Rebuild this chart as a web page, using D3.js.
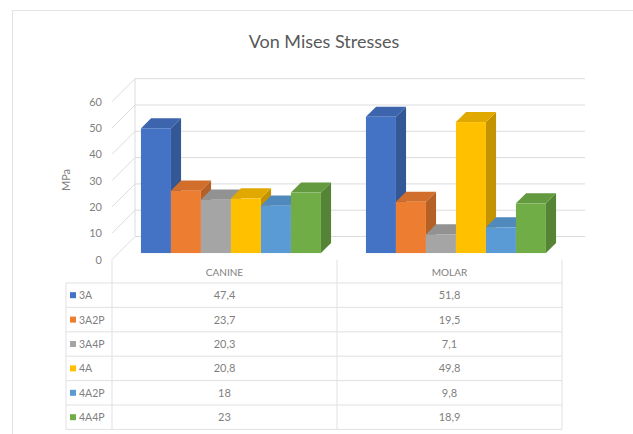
<!DOCTYPE html>
<html>
<head>
<meta charset="utf-8">
<script src="https://cdn.jsdelivr.net/npm/d3@7"></script>
<style>
  body { margin: 0; background: #fff; }
  svg { display: block; font-family: Lato, "Open Sans", sans-serif; }
</style>
</head>
<body>
<div id="chart"></div>
<script>
// data
const categories = ["CANINE", "MOLAR"];
const seriesNames = ["3A", "3A2P", "3A4P", "4A", "4A2P", "4A4P"];
const seriesColors = ["#4472C4", "#ED7D31", "#A5A5A5", "#FFC000", "#5B9BD5", "#70AD47"];
const canineValues = [47.4, 23.7, 20.3, 20.8, 18, 23];
const molarValues = [51.8, 19.5, 7.1, 49.8, 9.8, 18.9];
const yTicks = [0, 10, 20, 30, 40, 50, 60];

const W = 633, H = 434;
const svg = d3.select("#chart").append("svg").attr("width", W).attr("height", H);

// chart frame
svg.append("rect").attr("x", 12.5).attr("y", 10.5).attr("width", 640).attr("height", 440)
  .attr("fill", "none").attr("stroke", "#e3e3e3");

svg.append("text").attr("x", 324).attr("y", 48).attr("text-anchor", "middle")
  .attr("font-size", 18).attr("fill", "#595959").text("Von Mises Stresses");

// front plane scales + depth vector
const floorLeft = 112, floorRight = 562;
const depth = {dx: 23, dy: -23};
const x = d3.scaleBand().domain(categories).range([floorLeft, floorRight]).paddingInner(0).paddingOuter(0);
const y = d3.scaleLinear().domain([0, 60]).range([259.5, 101.7]);
const groupInner = 180; // width of the 6 bars
const xs = d3.scaleBand().domain(seriesNames).range([0, groupInner]);
const f0 = 0.28, f1 = 0.72; // depth fraction of bar front/back

const gridColor = "#dcdcdc";
const grid = svg.append("g");
yTicks.forEach(t => {
  const yy = y(t);
  grid.append("line").attr("x1", floorLeft).attr("y1", yy)
    .attr("x2", floorLeft + depth.dx).attr("y2", yy + depth.dy)
    .attr("stroke", gridColor);
  grid.append("line").attr("x1", floorLeft + depth.dx).attr("y1", yy + depth.dy)
    .attr("x2", floorRight + depth.dx).attr("y2", yy + depth.dy)
    .attr("stroke", gridColor);
});
grid.append("line").attr("x1", floorLeft + depth.dx).attr("y1", y(0) + depth.dy)
  .attr("x2", floorLeft + depth.dx).attr("y2", y(60) + depth.dy).attr("stroke", gridColor);

// y axis labels
const yAxis = d3.axisLeft(y).tickValues(yTicks).tickSize(0).tickPadding(0);
const ya = svg.append("g").attr("transform", "translate(102,0)").call(yAxis);
ya.select(".domain").remove();
ya.selectAll("text").attr("font-family", "Lato, sans-serif").attr("font-size", 11).attr("fill", "#7f7f7f");

svg.append("text").attr("transform", "translate(70,180) rotate(-90)")
  .attr("text-anchor", "middle").attr("font-size", 11).attr("fill", "#7f7f7f").text("MPa");

// bars
const valuesByCat = {CANINE: canineValues, MOLAR: molarValues};
const bars = svg.append("g");
categories.forEach(cat => {
  const gx = x(cat) + (x.bandwidth() - groupInner) / 2;
  valuesByCat[cat].forEach((v, i) => {
    const base = d3.color(seriesColors[i]);
    const xl = gx + xs(seriesNames[i]) + depth.dx * f0;
    const xr = xl + xs.bandwidth();
    const yb = y(0) + depth.dy * f0;
    const yt = y(v) + depth.dy * f0;
    const ddx = depth.dx * (f1 - f0), ddy = depth.dy * (f1 - f0);
    const g = bars.append("g");
    g.append("path")
      .attr("d", `M${xr},${yt}L${xr + ddx},${yt + ddy}L${xr + ddx},${yb + ddy}L${xr},${yb}Z`)
      .attr("fill", base.darker(0.75));
    g.append("path")
      .attr("d", `M${xl},${yt}L${xl + ddx},${yt + ddy}L${xr + ddx},${yt + ddy}L${xr},${yt}Z`)
      .attr("fill", base.darker(0.35));
    g.append("rect").attr("x", xl).attr("y", yt).attr("width", xr - xl).attr("height", yb - yt)
      .attr("fill", base);
  });
});

// data table
const rowTop = 283, rowH = 24.4, tableLeft = 66;
const lineColor = "#e1e1e1";
const table = svg.append("g");
[floorLeft, x("MOLAR"), floorRight].forEach(xx => {
  table.append("line").attr("x1", xx).attr("x2", xx).attr("y1", y(0)).attr("y2", rowTop + rowH * 6)
    .attr("stroke", lineColor);
});
table.append("line").attr("x1", tableLeft).attr("x2", tableLeft).attr("y1", rowTop).attr("y2", rowTop + rowH * 6)
  .attr("stroke", lineColor);
d3.range(7).forEach(r => {
  table.append("line").attr("x1", tableLeft).attr("x2", floorRight)
    .attr("y1", rowTop + r * rowH).attr("y2", rowTop + r * rowH).attr("stroke", lineColor);
});
categories.forEach(cat => {
  table.append("text").attr("x", x(cat) + x.bandwidth() / 2).attr("y", 276)
    .attr("text-anchor", "middle").attr("font-size", 10).attr("fill", "#7f7f7f").text(cat);
});
seriesNames.forEach((s, i) => {
  const cy = rowTop + rowH * (i + 0.5);
  table.append("rect").attr("x", 70).attr("y", cy - 3).attr("width", 6).attr("height", 6)
    .attr("fill", seriesColors[i]);
  table.append("text").attr("x", 79).attr("y", cy + 4).attr("font-size", 10.5)
    .attr("fill", "#7f7f7f").text(s);
  categories.forEach(cat => {
    table.append("text").attr("x", x(cat) + x.bandwidth() / 2).attr("y", cy + 4)
      .attr("text-anchor", "middle").attr("font-size", 11).attr("fill", "#7f7f7f")
      .text(String(valuesByCat[cat][i]).replace(".", ","));
  });
});
</script>
</body>
</html>
